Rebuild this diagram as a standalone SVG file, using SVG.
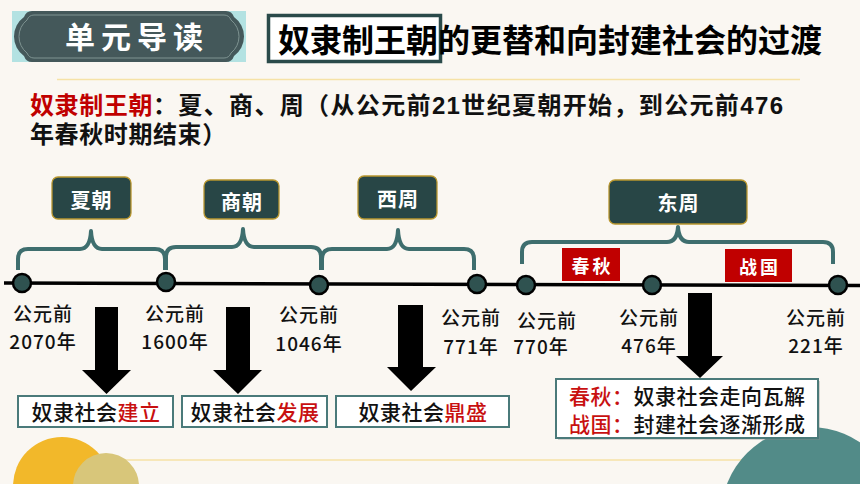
<svg xmlns="http://www.w3.org/2000/svg" width="860" height="484" viewBox="0 0 860 484">
<defs>
<style>
.cjk{font-family:"Noto Sans CJK SC","Noto Sans",sans-serif}
.sub{font-family:"Liberation Sans","Noto Sans CJK SC",sans-serif;font-size:24px;font-weight:700}
.lbl{fill:#284646;stroke:#B8962E;stroke-width:1.3}
.lt{font-family:"Noto Sans CJK SC",sans-serif;font-weight:700;fill:#fff;font-size:20px;text-anchor:middle;letter-spacing:1px}
.rb{fill:#C00000}
.rt{font-family:"Noto Sans CJK SC",sans-serif;font-weight:700;fill:#fff;font-size:18px;text-anchor:middle;letter-spacing:3px}
.brace{fill:none;stroke:#3E6E6E;stroke-width:4;stroke-linejoin:round}
.node{fill:#2F5250;stroke:#000;stroke-width:2.5}
.date{font-family:"Noto Sans CJK SC",sans-serif;font-size:19px;font-weight:500;fill:#111;text-anchor:middle;letter-spacing:1px}
.box{fill:#fff;stroke:#4A7A7A;stroke-width:2}
.bt{font-family:"Noto Sans CJK SC",sans-serif;font-size:21px;font-weight:500;fill:#111;letter-spacing:0.5px}
.red{fill:#C81010}
.arrow{fill:#000}
.deco{fill:none;stroke:#F6E2A6;stroke-width:1.5}
</style>
</defs>
<rect x="0" y="0" width="860" height="484" fill="#FAF7F2"/>
<g id="decor">
<line class="deco" x1="57" y1="79.5" x2="800" y2="79.5"/>
<line class="deco" x1="120" y1="460" x2="780" y2="460"/>
<circle cx="62" cy="486" r="49" fill="#F2B82A"/>
<circle cx="106" cy="486" r="33" fill="#D8C67A"/>
<circle cx="810" cy="516" r="89" fill="#528B88"/>
</g>
<g id="badge">
<rect x="12" y="11" width="234" height="51" fill="#B3E2E2"/>
<path d="M32,11 H226 Q232,11 234,17 A24,24 0 0 1 234,56 Q232,62 226,62 H32 Q26,62 24,56 A24,24 0 0 1 24,17 Q26,11 32,11 Z" fill="#44585A"/>
<path d="M34,15 H224 Q229,15 231,20 A21,21 0 0 1 231,53 Q229,58 224,58 H34 Q29,58 27,53 A21,21 0 0 1 27,20 Q29,15 34,15 Z" fill="none" stroke="#7E9391" stroke-width="1"/>
<text x="65" y="48" class="cjk" font-size="30" font-weight="700" fill="#fff" letter-spacing="6">单元导读</text>
</g>
<g id="title">
<rect x="268.5" y="15.5" width="172" height="46" fill="#fff" stroke="#2A4A4A" stroke-width="3.5"/>
<text x="278" y="52" class="cjk" font-size="32" font-weight="700" fill="#000" textLength="544" lengthAdjust="spacing">奴隶制王朝的更替和向封建社会的过渡</text>
</g>
<g id="subtitle">
<text x="30" y="114" class="sub" fill="#C00000" letter-spacing="0.6">奴隶制王朝</text>
<text x="153" y="114" class="sub" fill="#111" textLength="630" lengthAdjust="spacing">：夏、商、周（从公元前21世纪夏朝开始，到公元前476</text>
<text x="30" y="143" class="sub" fill="#111" letter-spacing="0.6">年春秋时期结束）</text>
</g>
<g id="connectors">
<line x1="4" y1="283" x2="860" y2="285.5" stroke="#000" stroke-width="3.5"/>
<path class="brace" d="M18,270 V259 Q18,249 28,249 H80 Q90,249 91,231 Q92,249 102,249 H155 Q165,249 165,259 V270"/>
<path class="brace" d="M166,270 V257 Q166,247 176,247 H232 Q242,247 243,229 Q244,247 254,247 H311 Q321,247 321,257 V270"/>
<path class="brace" d="M322,270 V259 Q322,249 332,249 H387 Q397,249 398,230 Q399,249 409,249 H464 Q474,249 474,259 V270"/>
<path class="brace" d="M522,264 V252 Q522,242 532,242 H667 Q677,242 678,227 Q679,242 689,242 H823 Q833,242 833,252 V264"/>
<polygon class="arrow" points="95,307 118,307 118,370 131,370 106.5,394 82,370 95,370"/>
<polygon class="arrow" points="226,307 250,307 250,370 262,370 238,394 213,370 226,370"/>
<polygon class="arrow" points="398,305 423,305 423,367 436,367 411,391 387,367 398,367"/>
<polygon class="arrow" points="688,293 712,293 712,356 723,356 700,378 676,356 688,356"/>
</g>
<g id="n2070"><circle class="node" cx="22" cy="283" r="9"/><text class="date" x="43" y="320.5">公元前</text><text class="date" x="43" y="348.5">2070年</text></g>
<g id="n1600"><circle class="node" cx="166" cy="282" r="9"/><text class="date" x="175" y="320.5">公元前</text><text class="date" x="175" y="348.5">1600年</text></g>
<g id="n1046"><circle class="node" cx="319" cy="285" r="9"/><text class="date" x="309" y="321.5">公元前</text><text class="date" x="309" y="350.5">1046年</text></g>
<g id="n771"><circle class="node" cx="477" cy="284" r="9"/><text class="date" x="471" y="324.5">公元前</text><text class="date" x="471" y="353.5">771年</text></g>
<g id="n770"><circle class="node" cx="526" cy="285" r="9"/><text class="date" x="547" y="327.5">公元前</text><text class="date" x="541" y="353.5">770年</text></g>
<g id="n476"><circle class="node" cx="652" cy="285" r="9"/><text class="date" x="649" y="324.5">公元前</text><text class="date" x="649" y="352.5">476年</text></g>
<g id="n221"><circle class="node" cx="838" cy="285" r="9"/><text class="date" x="816" y="325">公元前</text><text class="date" x="816" y="353">221年</text></g>
<g id="xia"><rect class="lbl" x="52" y="177" width="79" height="42" rx="6"/><text class="lt" x="91.5" y="208">夏朝</text></g>
<g id="shang"><rect class="lbl" x="204" y="180" width="75" height="39" rx="6"/><text class="lt" x="242" y="210">商朝</text></g>
<g id="xizhou"><rect class="lbl" x="358" y="176" width="79" height="43" rx="6"/><text class="lt" x="398" y="207">西周</text></g>
<g id="dongzhou"><rect class="lbl" x="609" y="180" width="138" height="44" rx="6"/><text class="lt" x="678.5" y="211">东周</text></g>
<g id="chunqiu"><rect class="rb" x="562" y="248" width="58" height="33"/><text class="rt" x="592.5" y="273">春秋</text></g>
<g id="zhanguo"><rect class="rb" x="725" y="249" width="67" height="33"/><text class="rt" x="760" y="274">战国</text></g>
<g id="jianli"><rect class="box" x="18" y="396" width="155" height="31"/><text class="bt" x="96" y="420" text-anchor="middle">奴隶社会<tspan class="red">建立</tspan></text></g>
<g id="fazhan"><rect class="box" x="182" y="396" width="145" height="31"/><text class="bt" x="255" y="420" text-anchor="middle">奴隶社会<tspan class="red">发展</tspan></text></g>
<g id="dingsheng"><rect class="box" x="336" y="396" width="173" height="31"/><text class="bt" x="423" y="420" text-anchor="middle">奴隶社会<tspan class="red">鼎盛</tspan></text></g>
<g id="transition">
<rect x="558" y="381" width="262" height="59" fill="#8a8a8a" opacity="0.35"/>
<rect class="box" x="556" y="379" width="262" height="59"/>
<text class="bt" x="569" y="404"><tspan class="red">春秋：</tspan>奴隶社会走向瓦解</text>
<text class="bt" x="569" y="432"><tspan class="red">战国：</tspan>封建社会逐渐形成</text>
</g>
</svg>
